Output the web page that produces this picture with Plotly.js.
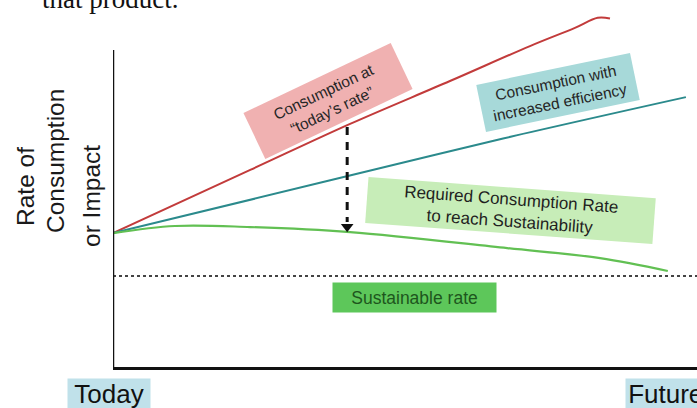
<!DOCTYPE html>
<html>
<head>
<meta charset="utf-8">
<script src="https://cdn.plot.ly/plotly-3.0.1.min.js"></script>
<style>html,body{margin:0;padding:0;background:#fff;}#chart{width:697px;height:408px;}</style>
</head>
<body>
<div id="chart"></div>
<script>
// Time axis (Today = 0, Future = 100) and rate axis (0-100)
var redX   = [0, 23.5, 40.6, 57.7, 71.4, 79.1, 83.0, 85.1];
var redY   = [37.5, 55.2, 68.1, 80.1, 89.9, 95.0, 97.8, 97.6];
var tealX  = [0, 37.2, 66.8, 98.1];
var tealY  = [37.5, 52.3, 64.0, 75.6];
var greenX = [0, 10.6, 23.5, 40.6, 67.5, 83.4, 95.0];
var greenY = [37.5, 39.5, 39.2, 37.8, 33.3, 30.5, 26.9];
var sustX  = [0, 100];
var sustY  = [25.5, 25.5];
var arrowX = [40.1, 40.1];
var arrowY = [67.2, 40.6];
var arrowTipX = [40.1];
var arrowTipY = [39.3];
var yAxisTop = 88.8;

var labelPink  = ["Consumption at", "“today’s rate”"];
var labelTeal  = ["Consumption with", "increased efficiency"];
var labelGreen = ["Required Consumption Rate", "to reach Sustainability"];
var labelSust  = "Sustainable rate";
var yTitleLines = ["Rate of", "Consumption", "or Impact"];
var xLabels = ["Today", "Future"];
var topText = "that product.";

var sans = "Liberation Sans, Arial, Helvetica, sans-serif";

var traces = [
  {x: redX, y: redY, mode: "lines", line: {color: "#c23b3b", width: 2, shape: "spline", smoothing: 1}},
  {x: tealX, y: tealY, mode: "lines", line: {color: "#2b8a8c", width: 2, shape: "spline"}},
  {x: greenX, y: greenY, mode: "lines", line: {color: "#62c053", width: 2.2, shape: "spline"}},
  {x: sustX, y: sustY, mode: "lines", line: {color: "#444", width: 2, dash: "dot"}},
  {x: arrowX, y: arrowY, mode: "lines", line: {color: "#111", width: 3, dash: "8px,7px"}},
  {x: arrowTipX, y: arrowTipY, mode: "markers", marker: {symbol: "triangle-down", size: 11, color: "#111"}}
];
traces.forEach(function(t){ t.hoverinfo = "skip"; t.showlegend = false; });

function box(lines, xpx, ypx, w, h, angle, bg, size, color) {
  return {
    xref: "paper", yref: "paper",
    x: (xpx - 113) / 584, y: (367 - ypx) / 357,
    xanchor: "center", yanchor: "middle",
    text: lines.join("<br>"), showarrow: false,
    width: w, height: h, borderpad: 0,
    bgcolor: bg, textangle: angle,
    font: {family: sans, size: size, color: color}
  };
}

var annotations = [
  box(labelPink, 328, 101, 162, 50, -25.4, "#f0b1b1", 15.5, "#262626"),
  box(labelTeal, 558, 92.5, 156, 47, -11.7, "#a7d9d9", 15.5, "#262626"),
  box(labelGreen, 510, 210, 287, 45, 4.2, "#c7edb8", 17, "#1f1f1f"),
  box([labelSust], 414.5, 297.5, 163, 29, 0, "#5dc75a", 17.5, "#1d561d"),
  {xref: "paper", yref: "paper", x: (109 - 113) / 584, y: (367 - 394) / 357,
   xanchor: "center", yanchor: "middle", text: xLabels[0], showarrow: false,
   width: 82, height: 30, borderpad: 0, bgcolor: "#c0e1ea",
   font: {family: sans, size: 26, color: "#111"}},
  {xref: "paper", yref: "paper", x: (625 - 113) / 584, y: (367 - 394) / 357,
   xanchor: "left", yanchor: "middle", text: "&#8202;" + xLabels[1], showarrow: false,
   width: 84, height: 30, borderpad: 0, bgcolor: "#c0e1ea", align: "left",
   font: {family: sans, size: 26, color: "#111"}},
  {xref: "paper", yref: "paper", x: (40 - 113) / 584, y: (367 - 16) / 357,
   xanchor: "left", yanchor: "bottom", text: topText, showarrow: false,
   font: {family: "Liberation Serif, Times New Roman, serif", size: 27, color: "#111"}}
];
var yTitlePos = [[25, 187], [55, 161], [92, 196]];
yTitleLines.forEach(function(s, i){
  annotations.push({xref: "paper", yref: "paper",
    x: (yTitlePos[i][0] - 113) / 584, y: (367 - yTitlePos[i][1]) / 357,
    xanchor: "center", yanchor: "middle", text: s, showarrow: false, textangle: -90,
    font: {family: sans, size: 24.5, color: "#1a1a1a"}});
});

var layout = {
  width: 697, height: 408,
  margin: {l: 113, r: 0, t: 10, b: 41, pad: 0},
  paper_bgcolor: "#fff", plot_bgcolor: "#fff",
  xaxis: {range: [0, 100], showgrid: false, zeroline: false, showticklabels: false, ticks: "",
          showline: true, linecolor: "#111", linewidth: 2.5, fixedrange: true},
  yaxis: {range: [0, 100], showgrid: false, zeroline: false, showticklabels: false, ticks: "",
          showline: false, fixedrange: true},
  shapes: [{type: "line", xref: "x", yref: "y", x0: 0, x1: 0, y0: 0, y1: yAxisTop,
            line: {color: "#111", width: 2.5}}],
  annotations: annotations
};

Plotly.newPlot("chart", traces, layout, {displayModeBar: false, staticPlot: true});
</script>
</body>
</html>
